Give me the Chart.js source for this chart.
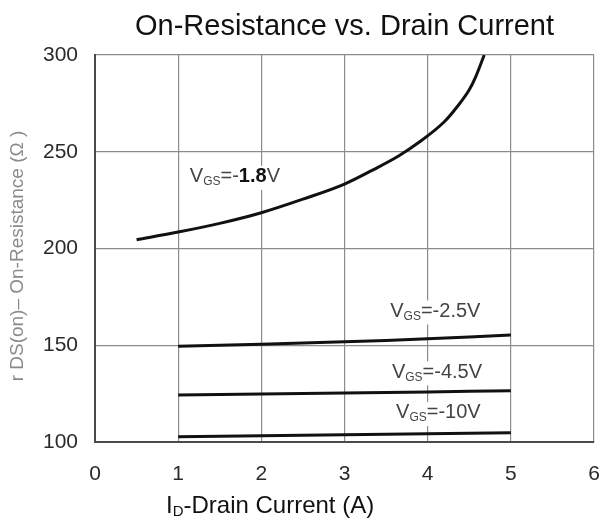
<!DOCTYPE html>
<html>
<head>
<meta charset="utf-8">
<script src="https://cdn.jsdelivr.net/npm/chart.js@4.4.1/dist/chart.umd.min.js"></script>
<style>
  html, body { margin: 0; padding: 0; background: #fff; }
  #wrap { width: 600px; height: 522px; position: relative; }
</style>
</head>
<body>
<div id="wrap"><canvas id="myChart"></canvas></div>
<script>
// values
let current18 = [0.5, 1, 1.5, 2, 2.5, 3, 3.35, 3.65, 3.9, 4.2, 4.35, 4.5, 4.58, 4.68];
let resist18 = [204.5, 208.5, 213, 218.5, 225.5, 233.3, 240.8, 247.8, 255, 265.5, 273, 282, 289, 300];

let currentFlat = [1, 2, 3, 4, 5];
let resist25 = [149.5, 150.5, 151.8, 153.3, 155.3];
let resist45 = [124.3, 124.8, 125.3, 125.9, 126.5];
let resist10 = [102.7, 103.2, 103.7, 104.2, 104.8];

let xTicks = [0, 1, 2, 3, 4, 5, 6];
let yTicks = [100, 150, 200, 250, 300];

let seriesNames = ["-1.8", "-2.5", "-4.5", "-10"];

let toPoints = (xs, ys) => xs.map((x, i) => ({ x: x, y: ys[i] }));

let FONT = "'Liberation Sans', Arial, sans-serif";

// text pieces with subscripts, drawn left to right
let drawRich = (ctx, parts, x, y) => {
  parts.forEach(p => {
    ctx.font = (p.bold ? "bold " : "") + p.size + "px " + FONT;
    ctx.fillStyle = p.color || "#444";
    ctx.fillText(p.t, x, y + (p.dy || 0));
    x += ctx.measureText(p.t).width;
  });
  return x;
};

let richWidth = (ctx, parts) => {
  let w = 0;
  parts.forEach(p => {
    ctx.font = (p.bold ? "bold " : "") + p.size + "px " + FONT;
    w += ctx.measureText(p.t).width;
  });
  return w;
};

let vgsParts = (val, bold) => {
  if (bold) {
    return [
      { t: "V", size: 20 },
      { t: "GS", size: 12, dy: 5 },
      { t: "=-", size: 20 },
      { t: val.slice(1), size: 20, bold: true, color: "#111" },
      { t: "V", size: 20 }
    ];
  }
  return [
    { t: "V", size: 20 },
    { t: "GS", size: 12, dy: 5 },
    { t: "=" + val + "V", size: 20 }
  ];
};

// label anchors in data units (left edge, middle)
let labelSpots = [
  { x: 1.14, y: 237, name: seriesNames[0], bold: true },
  { x: 3.55, y: 167.5, name: seriesNames[1] },
  { x: 3.57, y: 136, name: seriesNames[2] },
  { x: 3.62, y: 115, name: seriesNames[3] }
];

let textPlugin = {
  id: "texts",
  afterDraw: chart => {
    let ctx = chart.ctx;
    let xs = chart.scales.x;
    let ys = chart.scales.y;
    let area = chart.chartArea;
    ctx.save();
    ctx.textBaseline = "middle";

    // title
    ctx.textAlign = "center";
    ctx.fillStyle = "#111";
    ctx.font = "29px " + FONT;
    ctx.fillText("On-Resistance vs. Drain Current", (area.left + area.right) / 2, 27);

    // curve labels with white boxes over the grid
    ctx.textAlign = "left";
    labelSpots.forEach(s => {
      let parts = vgsParts(s.name, s.bold);
      let px = xs.getPixelForValue(s.x);
      let py = ys.getPixelForValue(s.y);
      let w = richWidth(ctx, parts);
      ctx.fillStyle = "#fff";
      ctx.fillRect(px - 2, py - 11, w + 4, 24);
      drawRich(ctx, parts, px, py);
    });

    // x axis title
    let xParts = [
      { t: "I", size: 24, color: "#111" },
      { t: "D", size: 15, dy: 6, color: "#111" },
      { t: "-Drain Current (A)", size: 24, color: "#111" }
    ];
    drawRich(ctx, xParts, 166, 506);

    // y axis title, rotated
    ctx.translate(18, 256);
    ctx.rotate(-Math.PI / 2);
    ctx.textAlign = "center";
    ctx.fillStyle = "#8a8a8a";
    ctx.font = "19px " + FONT;
    ctx.fillText("r DS(on)– On-Resistance (Ω )", 0, 0);
    ctx.restore();
  }
};

let ctx = document.getElementById("myChart").getContext("2d");
let myLineChart = new Chart(ctx, {
  type: "line",
  data: {
    datasets: [
      { label: seriesNames[0], data: toPoints(current18, resist18), cubicInterpolationMode: "monotone" },
      { label: seriesNames[1], data: toPoints(currentFlat, resist25), tension: 0.3 },
      { label: seriesNames[2], data: toPoints(currentFlat, resist45), tension: 0.3 },
      { label: seriesNames[3], data: toPoints(currentFlat, resist10), tension: 0.3 }
    ].map(d => Object.assign(d, {
      borderColor: "#111",
      borderWidth: 3,
      pointRadius: 0,
      fill: false
    }))
  },
  options: {
    responsive: true,
    maintainAspectRatio: false,
    animation: false,
    layout: { padding: { top: 55, right: 6, left: 0, bottom: 0 } },
    plugins: {
      legend: { display: false },
      title: { display: false },
      tooltip: { enabled: false }
    },
    scales: {
      x: {
        type: "linear",
        min: xTicks[0],
        max: xTicks[xTicks.length - 1],
        afterBuildTicks: scale => { scale.ticks = xTicks.map(v => ({ value: v })); },
        afterFit: scale => {
          scale.height = 80;
          scale.paddingLeft = 0;
          scale.paddingRight = 0;
        },
        grid: { color: "#8c8c8c", lineWidth: 1.2, drawTicks: false },
        border: { color: "#4a4a4a", width: 2 },
        ticks: { padding: 20, color: "#2a2a2a", font: { family: FONT, size: 21 } }
      },
      y: {
        type: "linear",
        min: yTicks[0],
        max: yTicks[yTicks.length - 1],
        afterBuildTicks: scale => { scale.ticks = yTicks.map(v => ({ value: v })); },
        afterFit: scale => {
          scale.width = 95;
          scale.paddingTop = 0;
          scale.paddingBottom = 0;
        },
        grid: { color: "#8c8c8c", lineWidth: 1.2, drawTicks: false },
        border: { color: "#4a4a4a", width: 2 },
        ticks: { padding: 17, color: "#2a2a2a", font: { family: FONT, size: 21 } }
      }
    }
  },
  plugins: [textPlugin]
});
</script>
</body>
</html>
